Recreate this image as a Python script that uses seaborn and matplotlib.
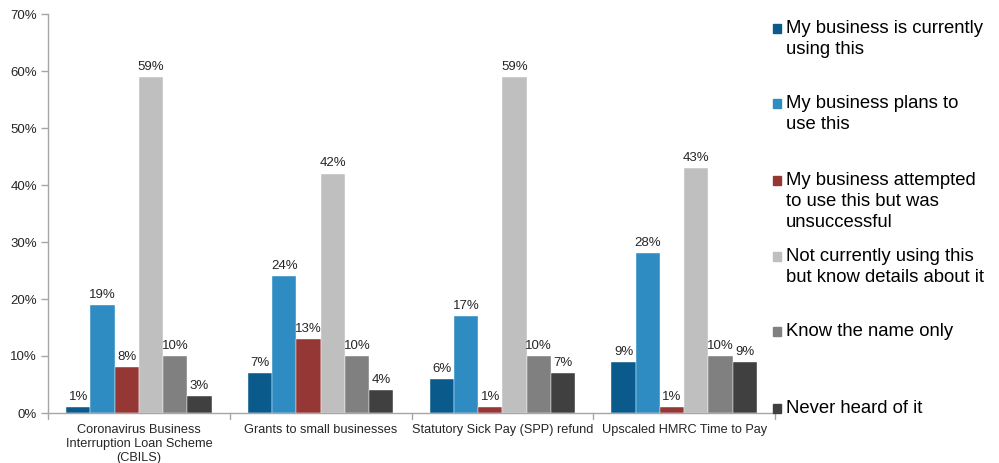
import matplotlib
matplotlib.use("Agg")
import matplotlib.pyplot as plt
import seaborn as sns
import pandas as pd
from matplotlib.patches import Rectangle

categories = [
    "Coronavirus Business\nInterruption Loan Scheme\n(CBILS)",
    "Grants to small businesses",
    "Statutory Sick Pay (SPP) refund",
    "Upscaled HMRC Time to Pay",
]
series = [
    "My business is currently\nusing this",
    "My business plans to\nuse this",
    "My business attempted\nto use this but was\nunsuccessful",
    "Not currently using this\nbut know details about it",
    "Know the name only",
    "Never heard of it",
]
currently_using = [1, 7, 6, 9]
plans_to_use = [19, 24, 17, 28]
attempted_unsuccessful = [8, 13, 1, 1]
know_details = [59, 42, 59, 43]
name_only = [10, 10, 10, 10]
never_heard = [3, 4, 7, 9]
colors = ["#0B5A8C", "#2E8CC2", "#953735", "#BFBFBF", "#808080", "#404040"]
yticks = [0, 10, 20, 30, 40, 50, 60, 70]

values = [currently_using, plans_to_use, attempted_unsuccessful, know_details, name_only, never_heard]
rows = []
for s, vals in zip(series, values):
    for c, v in zip(categories, vals):
        rows.append({"category": c, "series": s, "value": v})
df = pd.DataFrame(rows)

sns.set_style("white")
plt.rcParams["font.family"] = ["Liberation Sans", "DejaVu Sans"]

fig = plt.figure(figsize=(9.99, 4.63), dpi=100)
ax = fig.add_axes([48 / 999, 50 / 463, 727 / 999, 399 / 463])

sns.barplot(data=df, x="category", y="value", hue="series", order=categories,
            hue_order=series, palette=colors, width=0.8, ax=ax, legend=False,
            saturation=1, edgecolor="white", linewidth=0.3)

for cont in ax.containers:
    ax.bar_label(cont, labels=[f"{v:.0f}%" for v in cont.datavalues],
                 padding=3, fontsize=9.5, color="#262626")

ax.set_ylim(0, 70)
ax.set_xlim(-0.5, 3.5)
ax.set_yticks(yticks)
ax.set_yticklabels([f"{t}%" for t in yticks], fontsize=9.5, color="#262626")
ax.set_xticks(range(len(categories)))
ax.set_xticklabels(categories, fontsize=9.2, color="#262626", linespacing=1.2)
ax.tick_params(axis="x", length=0, pad=8)
ax.tick_params(axis="y", length=5, width=1, color="#A6A6A6", left=True, pad=3)
for x in [-0.5, 0.5, 1.5, 2.5, 3.5]:
    ax.plot([x, x], [0, -1.0], color="#A6A6A6", lw=1, clip_on=False)
ax.set_xlabel("")
ax.set_ylabel("")
for side in ["top", "right"]:
    ax.spines[side].set_visible(False)
for side in ["left", "bottom"]:
    ax.spines[side].set_color("#A6A6A6")
    ax.spines[side].set_linewidth(1)

# legend (manual, aligned on first line as in the reference)
ys = [28, 103, 180, 256, 331, 408]
for s, col, y in zip(series, colors, ys):
    fy = 1 - y / 463
    fig.patches.append(Rectangle((773 / 999, fy - 4.5 / 463), 8 / 999, 9 / 463,
                                 transform=fig.transFigure, color=col, figure=fig))
    fig.text(786 / 999, fy + 8 / 463, s, fontsize=13.3, va="top", ha="left",
             color="#000000", linespacing=1.3)

fig.savefig("out.png", dpi=100)
